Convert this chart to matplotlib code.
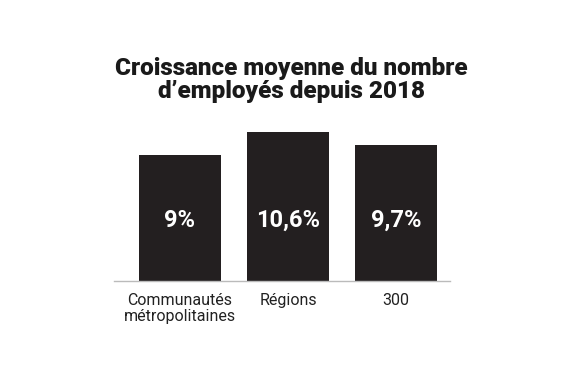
import matplotlib
matplotlib.use("Agg")
import matplotlib.pyplot as plt

categories = ["Communautés\nmétropolitaines", "Régions", "300"]
values = [9.0, 10.6, 9.7]
value_labels = ["9%", "10,6%", "9,7%"]
title = "Croissance moyenne du nombre\nd\u2019employés depuis 2018"

bar_color = "#231f20"

fig = plt.figure(figsize=(5.7, 3.8), dpi=100)
ax = fig.add_axes([114 / 570, 99.3 / 380, 336 / 570, 154 / 380])

x = range(len(categories))
bars = ax.bar(x, values, width=0.76, color=bar_color)

# valeurs en blanc, a hauteur fixe dans les barres
for xi, lab in zip(x, value_labels):
    ax.text(xi, 4.33, lab, ha="center", va="center", color="white",
            fontsize=17, fontweight="bold", family="Roboto")

ax.set_xlim(-0.611, 2.5)
ax.set_ylim(0, 11)
ax.set_xticks(list(x))
ax.set_xticklabels(categories, fontsize=11.5, color="#222222", family="Roboto",
                   linespacing=1.1, va="top")
ax.tick_params(axis="x", length=0, pad=9)
ax.set_yticks([])
for s in ["top", "right", "left"]:
    ax.spines[s].set_visible(False)
ax.spines["bottom"].set_color("#bbbbbb")
ax.spines["bottom"].set_linewidth(1)

fig.text(291 / 570, 1 - 57 / 380, title, ha="center", va="top",
         fontsize=17.5, fontweight="heavy", family="Roboto", color="#1a1a1a",
         linespacing=1.0)

fig.savefig("out.png", dpi=100, facecolor="white")
